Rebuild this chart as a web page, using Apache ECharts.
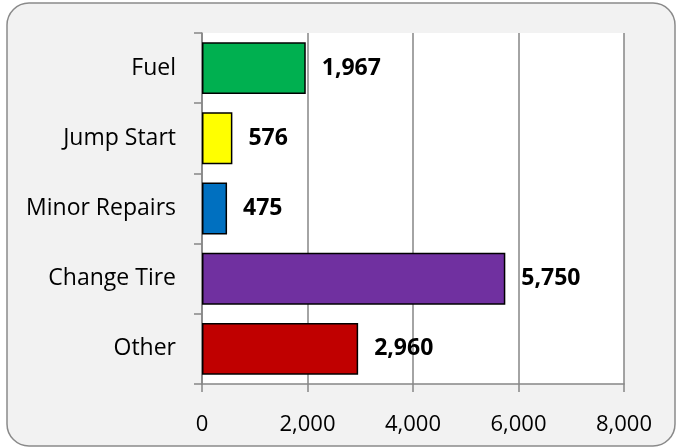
<!DOCTYPE html>
<html>
<head>
<meta charset="utf-8">
<script src="https://cdn.jsdelivr.net/npm/echarts@6/dist/echarts.min.js"></script>
<style>
  html, body { margin: 0; padding: 0; background: #ffffff; }
  #chart { width: 677px; height: 448px; }
</style>
</head>
<body>
<div id="chart"></div>
<script>
const categories = ["Fuel", "Jump Start", "Minor Repairs", "Change Tire", "Other"];
const values = [1967, 576, 475, 5750, 2960];
const barColors = ["#00B050", "#FFFF00", "#0070C0", "#7030A0", "#C00000"];
const xTicks = [0, 2000, 4000, 6000, 8000];

const myChart = echarts.init(document.getElementById("chart"));
const fontName = "'Open Sans', sans-serif";
const fmt = (v) => Number(v).toLocaleString("en-US");

const option = {
  animation: false,
  textStyle: { fontFamily: fontName },
  graphic: [
    {
      type: "rect",
      z: -10,
      shape: { x: 7, y: 3, width: 668, height: 443, r: 22 },
      style: { fill: "#F2F2F2", stroke: "#8a8a8a", lineWidth: 1.5 },
    },
  ],
  grid: {
    left: 202,
    top: 33,
    right: 53,
    bottom: 64,
    show: true,
    backgroundColor: "#ffffff",
    borderWidth: 0,
  },
  xAxis: {
    type: "value",
    min: xTicks[0],
    max: xTicks[xTicks.length - 1],
    interval: 2000,
    axisLine: { show: true, lineStyle: { color: "#868686", width: 1.5 } },
    axisTick: { show: true, length: 8, lineStyle: { color: "#868686", width: 1.5 } },
    splitLine: { show: true, lineStyle: { color: "#868686", width: 1.5 } },
    axisLabel: {
      color: "#000",
      fontSize: 22,
      margin: 30,
      formatter: (v) => fmt(v),
    },
  },
  yAxis: {
    type: "category",
    inverse: true,
    data: categories,
    axisLine: { show: true, lineStyle: { color: "#868686", width: 1.5 } },
    axisTick: { show: true, length: 8, lineStyle: { color: "#868686", width: 1.5 } },
    axisLabel: { color: "#000", fontSize: 23, margin: 26 },
  },
  series: [
    {
      type: "bar",
      barCategoryGap: "26%",
      data: values.map((v, i) => ({
        value: v,
        itemStyle: { color: barColors[i], borderColor: "#000", borderWidth: 1.5 },
      })),
      label: {
        show: true,
        position: "right",
        distance: 16,
        color: "#000",
        fontWeight: "bold",
        fontSize: 23,
        formatter: (p) => fmt(p.value),
      },
    },
  ],
};
myChart.setOption(option);
</script>
</body>
</html>
